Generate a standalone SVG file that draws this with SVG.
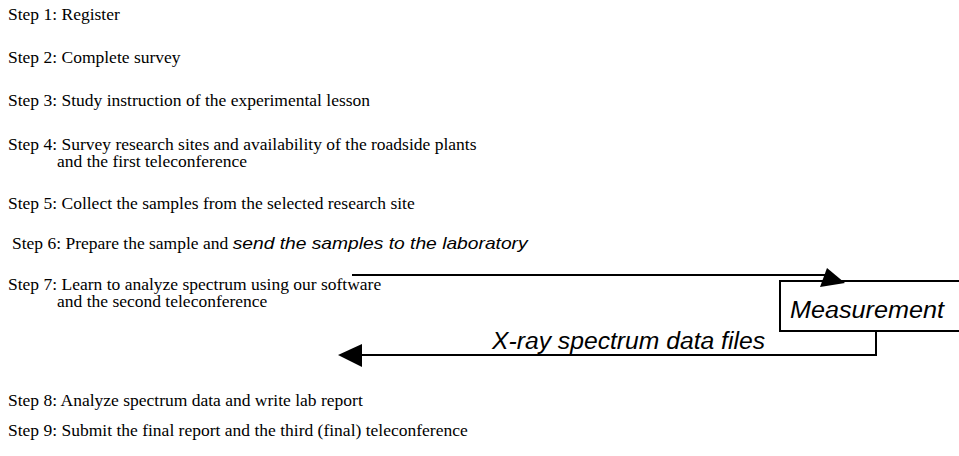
<svg xmlns="http://www.w3.org/2000/svg" width="959" height="456" viewBox="0 0 959 456">
<style>
.step{font-family:"Liberation Serif","Times New Roman",serif;font-size:17.5px;fill:#000}
.it{font-family:"Liberation Sans",Arial,sans-serif;font-style:italic;fill:#000}
.ln{stroke:#000;stroke-width:2;fill:none}
</style>
<rect width="959" height="456" fill="#fff"/>
<g id="step1"><text class="step" x="8" y="20">Step 1: Register</text></g>
<g id="step2"><text class="step" x="8" y="63">Step 2: Complete survey</text></g>
<g id="step3"><text class="step" x="8" y="106">Step 3: Study instruction of the experimental lesson</text></g>
<g id="step4"><text class="step" x="8" y="150">Step 4: Survey research sites and availability of the roadside plants</text><text class="step" x="57" y="167">and the first teleconference</text></g>
<g id="step5"><text class="step" x="8" y="209">Step 5: Collect the samples from the selected research site</text></g>
<g id="step6"><text class="step" x="12" y="249">Step 6: Prepare the sample and <tspan class="it" font-size="17" textLength="295" lengthAdjust="spacingAndGlyphs">send the samples to the laboratory</tspan></text></g>
<g id="step7"><text class="step" x="8" y="290">Step 7: Learn to analyze spectrum using our software</text><text class="step" x="57" y="307">and the second teleconference</text></g>
<g id="measurement"><rect class="ln" x="780" y="281" width="185" height="50"/><text class="it" x="790" y="318" font-size="23" textLength="154" lengthAdjust="spacingAndGlyphs">Measurement</text></g>
<g id="xray"><text class="it" x="492" y="349" font-size="23" textLength="273" lengthAdjust="spacingAndGlyphs">X-ray spectrum data files</text></g>
<g id="step8"><text class="step" x="8" y="406">Step 8: Analyze spectrum data and write lab report</text></g>
<g id="step9"><text class="step" x="8" y="436">Step 9: Submit the final report and the third (final) teleconference</text></g>
<g id="connectors">
<path class="ln" d="M352 275 H830"/>
<polygon points="845,283 827,268 820,287" fill="#000"/>
<path class="ln" d="M876 331 V355 H358"/>
<polygon points="338,355 362,344 362,367" fill="#000"/>
</g>
</svg>
